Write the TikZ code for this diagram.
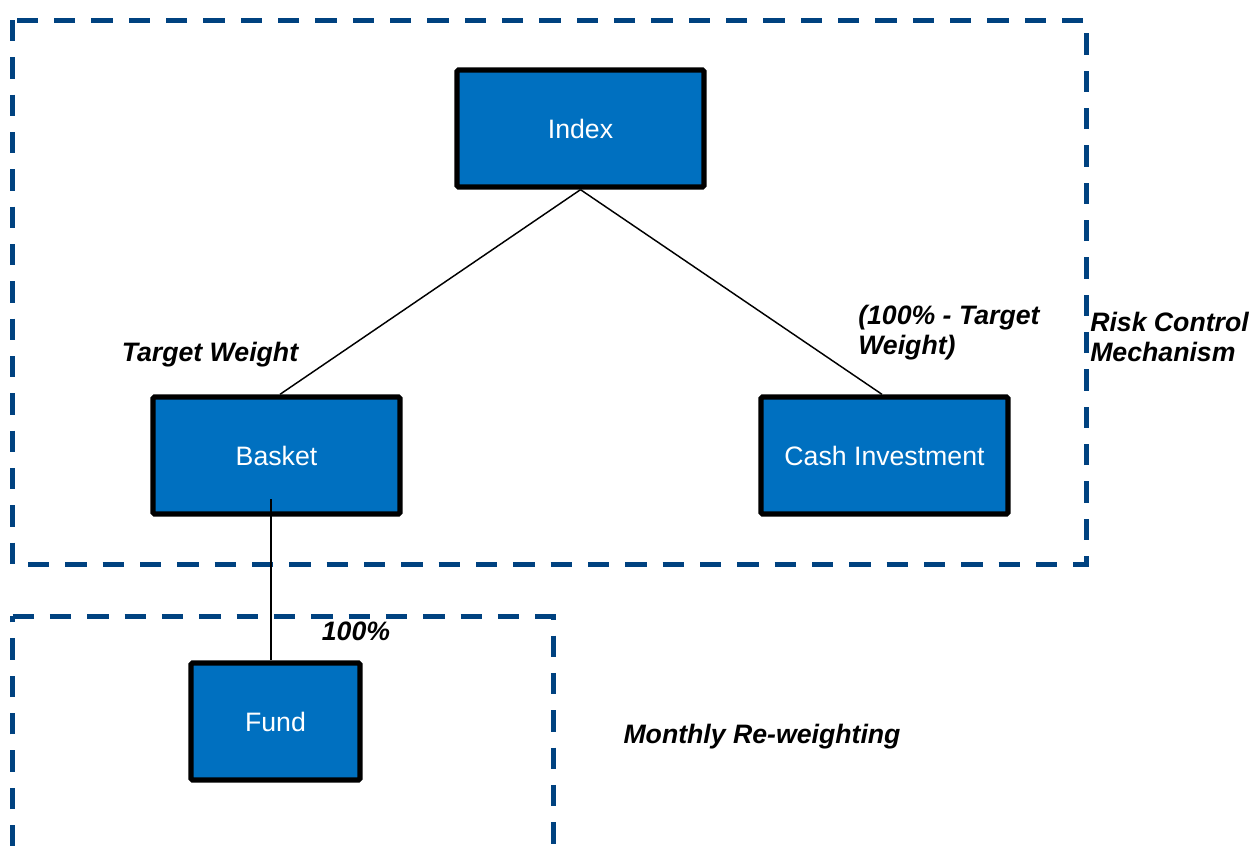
\documentclass[tikz,border=0pt]{standalone}
\usepackage{fontspec}
\setmainfont{Liberation Sans}
\usetikzlibrary{calc}
\definecolor{boxblue}{RGB}{0,112,192}
\definecolor{dashblue}{RGB}{0,66,128}
\tikzset{
  bluebox/.style={draw=black, line width=4pt, fill=boxblue, rounded corners=1.2pt,
    minimum height=87.75pt, text=white, font=\fontsize{20}{23}\selectfont, inner sep=0pt},
  groupframe/.style={draw=dashblue, line width=3.75pt, dash pattern=on 16pt off 12pt},
  link/.style={draw=black, line width=1.1pt},
  annot/.style={font=\fontsize{20}{23}\selectfont\bfseries\itshape, text=black, inner sep=0pt, align=left}
}
\begin{document}
\begin{tikzpicture}[x=0.75pt,y=-0.75pt]
\useasboundingbox (0,0) rectangle (1250,846);
\clip (0,0) rectangle (1250,846);
% group frames
\draw[groupframe] (12.5,20) -- (12.5,564.5) -- (1086,564.5) -- (1086,20) -- cycle;
\draw[groupframe] (12.5,616) -- (553,616) -- (553,900) -- (12.5,900) -- cycle;
% boxes
\node[bluebox, minimum width=185.25pt] (index) at (580.5,128.5) {\raisebox{-1.5pt}{Index}};
\node[bluebox, minimum width=185.25pt] (basket) at (276.5,455.5) {\raisebox{-1.5pt}{Basket}};
\node[bluebox, minimum width=185.25pt] (cash) at (884.5,455.5) {\raisebox{-1.5pt}{Cash Investment}};
\node[bluebox, minimum width=126.75pt] (fund) at (275.5,721.5) {Fund};
% connectors
\coordinate (bf) at (271,499);
\draw[link] (index.south) -- ($(basket.north)+(3.5,0)$);
\draw[link] (index.south) -- ($(cash.north)+(-2.5,0)$);
\draw[link] (bf) -- (bf |- fund.north);
% annotations
\node[annot] (tw) at (210,355) {Target Weight};
\node[annot, anchor=west] (ctw) at (858,332.5) {(100\% - Target\\Weight)};
\node[annot, anchor=west] (rcm) at (1090,337) {Risk Control\\Mechanism};
\node[annot] (hund) at (356,631) {100\%};
\node[annot] (mrw) at (762,737) {Monthly Re-weighting};
\end{tikzpicture}
\end{document}
